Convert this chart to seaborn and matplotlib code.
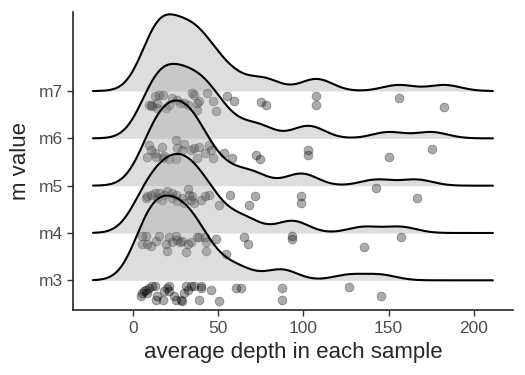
import numpy as np
import pandas as pd
import matplotlib
matplotlib.use("Agg")
import matplotlib.pyplot as plt
import seaborn as sns

# %% data
groups = ["m3", "m4", "m5", "m6", "m7"]

# average depth of each sample, per m value
m3_depth = [5.3, 6.5, 7.6, 8.2, 9.4, 11.2, 12.4, 4.7, 13.5, 14.1, 17.1, 18.2,
            20.0, 21.2, 21.2, 24.1, 25.3, 28.2, 28.8, 30.0, 31.2, 31.8, 34.1,
            35.9, 40.0, 40.0, 45.9, 38.8, 50.6, 60.6, 63.5, 87.1, 87.1,
            126.5, 145.3]
m4_depth = [5.3, 7.6, 5.3, 8.2, 10.6, 13.5, 15.3, 19.4, 20.0, 21.2, 22.9,
            25.3, 25.9, 27.1, 28.8, 31.2, 31.8, 34.1, 37.1, 38.8, 41.8, 42.9,
            42.9, 48.8, 54.7, 65.3, 67.1, 93.5, 93.5, 135.3, 157.1]
m5_depth = [7.6, 8.2, 10.6, 12.4, 15.3, 16.5, 18.2, 20.0, 22.4, 22.9, 25.3,
            25.9, 28.8, 31.8, 32.9, 34.1, 34.7, 35.9, 40.0, 41.8, 44.7, 50.6,
            56.5, 68.2, 71.2, 98.8, 98.8, 142.9, 166.5, 14.1, 30.0]
m6_depth = [9.4, 10.6, 12.4, 16.5, 8.2, 13.5, 17.1, 21.2, 25.3, 25.9, 25.3,
            30.0, 28.8, 34.1, 35.9, 37.6, 41.8, 44.7, 45.9, 46.5, 53.5, 58.2,
            71.8, 74.7, 102.9, 102.9, 150.0, 175.3, 18.2, 38.8]
m7_depth = [12.4, 15.3, 17.1, 10.6, 11.2, 14.1, 22.9, 25.9, 27.1, 30.0, 31.8,
            34.7, 35.9, 37.6, 38.8, 43.5, 46.5, 48.8, 37.6, 55.3, 59.4, 75.3,
            78.2, 107.6, 107.6, 9.4, 14.1, 19.4, 155.9, 182.9, 21.2]

# vertical jitter of each point below its baseline (in row units)
m3_jitter = [0.27, 0.23, 0.21, 0.27, 0.17, 0.13, 0.11, 0.34, 0.42, 0.34, 0.42,
             0.23, 0.17, 0.11, 0.23, 0.34, 0.42, 0.42, 0.44, 0.27, 0.11, 0.21,
             0.13, 0.13, 0.13, 0.17, 0.21, 0.42, 0.44, 0.17, 0.17, 0.17, 0.42,
             0.15, 0.34]
m4_jitter = [0.06, 0.06, 0.23, 0.23, 0.27, 0.17, 0.06, 0.23, 0.38, 0.08, 0.19,
             0.06, 0.15, 0.19, 0.17, 0.40, 0.23, 0.19, 0.08, 0.08, 0.08, 0.19,
             0.38, 0.13, 0.44, 0.08, 0.23, 0.06, 0.13, 0.30, 0.08]
m5_jitter = [0.25, 0.21, 0.19, 0.15, 0.15, 0.30, 0.19, 0.11, 0.15, 0.25, 0.19,
             0.32, 0.25, 0.08, 0.19, 0.30, 0.21, 0.36, 0.30, 0.21, 0.19, 0.40,
             0.19, 0.40, 0.21, 0.21, 0.36, 0.04, 0.27, 0.27, 0.36]
m6_jitter = [0.15, 0.25, 0.32, 0.19, 0.40, 0.40, 0.42, 0.44, 0.04, 0.21, 0.44,
             0.11, 0.25, 0.25, 0.21, 0.42, 0.30, 0.15, 0.25, 0.42, 0.32, 0.42,
             0.36, 0.44, 0.25, 0.36, 0.40, 0.23, 0.38, 0.19]
m7_jitter = [0.11, 0.08, 0.08, 0.30, 0.32, 0.25, 0.15, 0.19, 0.25, 0.25, 0.30,
             0.04, 0.08, 0.25, 0.21, 0.04, 0.21, 0.42, 0.40, 0.11, 0.21, 0.23,
             0.30, 0.11, 0.30, 0.30, 0.36, 0.36, 0.15, 0.34, 0.30]

depths = [m3_depth, m4_depth, m5_depth, m6_depth, m7_depth]
jitters = [m3_jitter, m4_jitter, m5_jitter, m6_jitter, m7_jitter]

df = pd.concat([
    pd.DataFrame({"m": g, "pos": i + 1, "depth": d, "jit": j})
    for i, (g, d, j) in enumerate(zip(groups, depths, jitters))
], ignore_index=True)
df["y"] = df["pos"] - df["jit"]

# %% ridge densities (pooled bandwidth, grid extended by 3 bandwidths)
bw = 9.5
scale = 1.8
grid = np.linspace(df["depth"].min() - 3 * bw, df["depth"].max() + 3 * bw, 512)

def kde(x):
    x = np.asarray(x)
    z = (grid[:, None] - x[None, :]) / bw
    return np.exp(-0.5 * z ** 2).sum(axis=1) / (len(x) * bw * np.sqrt(2 * np.pi))

dens = {g: kde(df.loc[df["m"] == g, "depth"]) for g in groups}
top = max(d.max() for d in dens.values())

# %% figure
sns.set_style("ticks")
plt.rcParams["font.family"] = ["Liberation Sans", "DejaVu Sans"]

fig = plt.figure(figsize=(5.25, 3.75), dpi=100)
ax = fig.add_axes([0.139, 0.173, 0.838, 0.795])

# draw from the top row down so lower ridges sit on top
for k, g in enumerate(groups[::-1]):
    pos = len(groups) - k
    h = dens[g] / top * scale
    z = 2 + k * 3
    ax.fill_between(grid, pos, pos + h, color="#a6a6a6", alpha=0.38,
                    linewidth=0, zorder=z)
    ax.plot(grid, pos + h, color="black", lw=1.5, zorder=z + 1)
    sns.scatterplot(data=df[df["m"] == g], x="depth", y="y", ax=ax,
                    color="black", alpha=0.33, s=40, edgecolor="black",
                    linewidth=0.6, zorder=z + 2, legend=False)

span = grid[-1] - grid[0]
ax.set_xlim(grid[0] - 0.05 * span, grid[-1] + 0.05 * span)
ax.set_ylim(0.37, 6.67)
ax.set_xticks([0, 50, 100, 150, 200])
ax.set_yticks(range(1, len(groups) + 1))
ax.set_yticklabels(groups)
ax.tick_params(labelsize=12.5, labelcolor="#4d4d4d", color="#333333",
               length=4, width=1)
for side in ["left", "bottom"]:
    ax.spines[side].set_linewidth(1.2)
sns.despine(ax=ax)
ax.set_xlabel("average depth in each sample", fontsize=16, labelpad=5)
ax.set_ylabel("m value", fontsize=16, labelpad=5)

fig.savefig("out.png", dpi=100)
